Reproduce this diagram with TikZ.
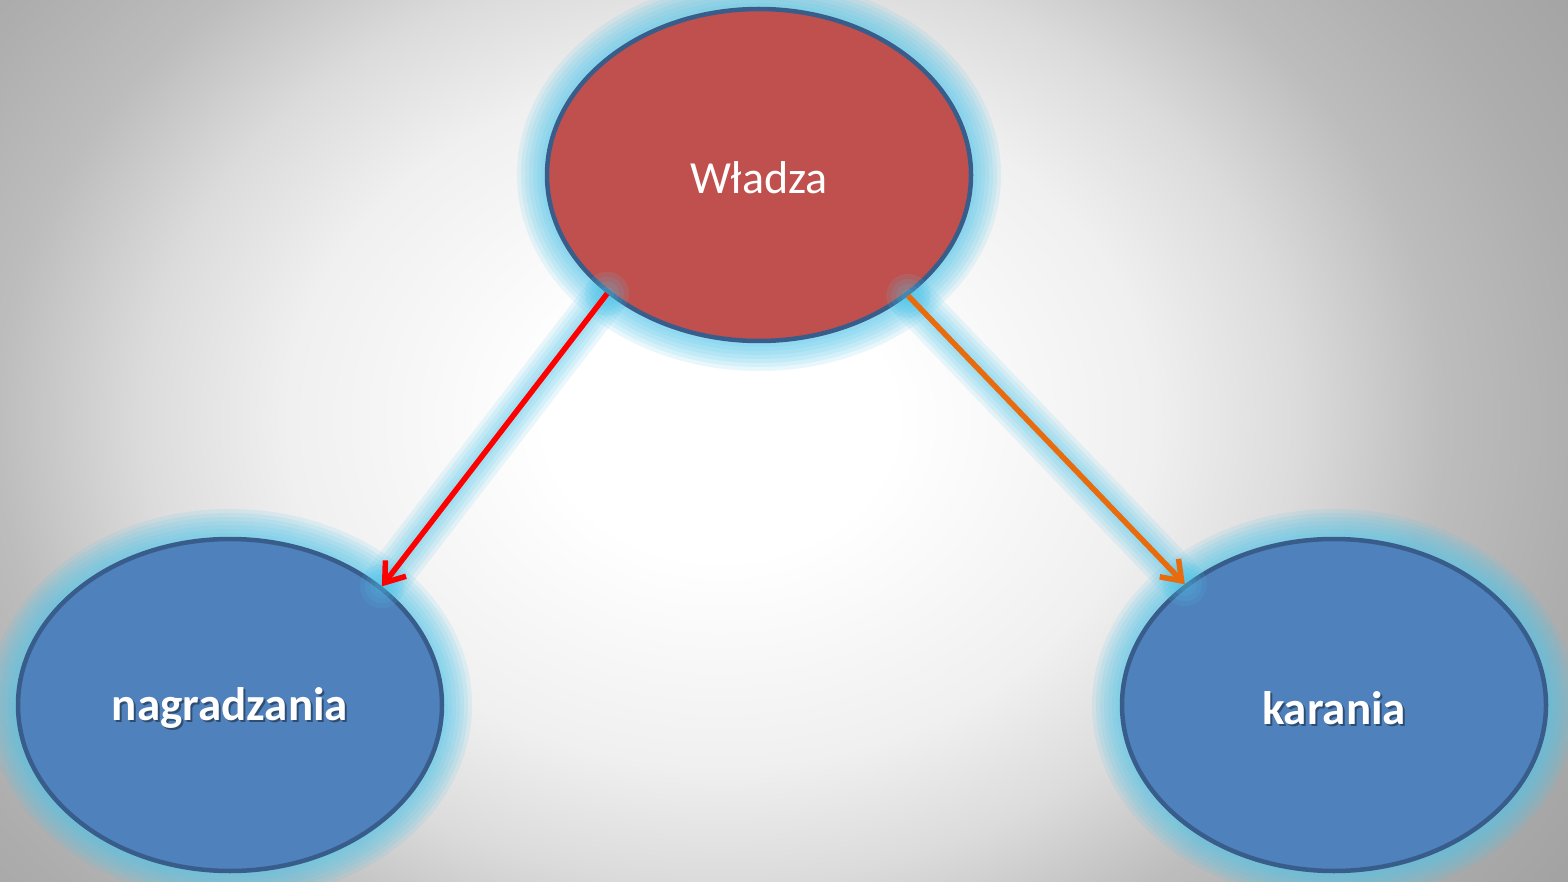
\documentclass[tikz,border=0pt]{standalone}
\usepackage{fontspec}
\setmainfont{Carlito}
\usetikzlibrary{shapes.geometric,arrows.meta}
\definecolor{glowc}{RGB}{80,198,235}
\definecolor{redfill}{RGB}{192,80,77}
\definecolor{bluefill}{RGB}{79,129,189}
\definecolor{borderc}{RGB}{56,93,138}
\definecolor{arrred}{RGB}{255,0,0}
\definecolor{arrorange}{RGB}{232,108,14}
\pgfdeclareradialshading{bgshade}{\pgfpointorigin}{color(0bp)=(white); color(12bp)=(white); color(30bp)=(black!6); color(40bp)=(black!14); color(50bp)=(black!26); color(60bp)=(black!32); color(70bp)=(black!36)}
\pgfdeclarelayer{bglayer}
\pgfdeclarelayer{glowlayer}
\pgfsetlayers{bglayer,glowlayer,main}
\tikzset{
  oval/.style={ellipse, draw=borderc, line width=4.5pt, minimum width=424pt, minimum height=332pt, inner sep=0pt},
  glowline/.style={draw=glowc, line width=#1, draw opacity=0.13, line cap=round},
  blob/.style={fill=glowc, fill opacity=0.13, draw=none},
  labeltext/.style={text=white, font=\fontsize{46}{50}\selectfont},
  boldtext/.style={text=white, font=\bfseries\fontsize{47}{50}\selectfont},
  shadowtext/.style={text=black, text opacity=0.4, font=\bfseries\fontsize{47}{50}\selectfont},
  arrowline/.style={line width=5.5pt, -{Straight Barb[length=18pt,width=26pt,line width=5.5pt]}}
}
\begin{document}
\begin{tikzpicture}[x=1pt,y=-1pt]
\useasboundingbox (0,0) rectangle (1568,882);
\begin{pgfonlayer}{bglayer}
  \begin{scope}
    \clip (0,0) rectangle (1568,882);
    \fill[black!36] (0,0) rectangle (1568,882);
    \pgftransformshift{\pgfpoint{720pt}{-420pt}}
    \pgftransformxscale{14.4}
    \pgftransformyscale{11.5}
    \pgflowlevelsynccm
    \pgfuseshading{bgshade}
  \end{scope}
\end{pgfonlayer}

\node[oval, fill=redfill] (W) at (759,175) {};
\node[oval, fill=bluefill] (N) at (230,705) {};
\node[oval, fill=bluefill] (K) at (1334,705) {};

\foreach \p in {W.218, W.321.6, N.38.7, K.141.7}{
  \foreach \r in {22,17,12,7}{
    \fill[blob] (\p) circle [radius=\r];
  }
}

\node[labeltext] (Wt) at (759,178) {Władza};
\node[shadowtext] (Ns) at (232,710) {nagradzania};
\node[boldtext] (Nt) at (230,708) {nagradzania};
\node[shadowtext] (Ks) at (1336,710) {karania};
\node[boldtext] (Kt) at (1334,708) {karania};

\draw[arrowline, draw=arrred] (W.218) -- (N.38.7);
\draw[arrowline, draw=arrorange] (W.321.6) -- (K.141.7);

\begin{pgfonlayer}{glowlayer}
  \foreach \w in {60,52,44,36,28,20,12}{
    \draw[glowline=\w pt] (W.center) ellipse [x radius=212, y radius=166];
    \draw[glowline=\w pt] (N.center) ellipse [x radius=212, y radius=166];
    \draw[glowline=\w pt] (K.center) ellipse [x radius=212, y radius=166];
  }
  \foreach \w in {44,36,28,20,12}{
    \draw[glowline=\w pt] (W.218) -- (N.38.7);
    \draw[glowline=\w pt] (W.321.6) -- (K.141.7);
  }
\end{pgfonlayer}
\end{tikzpicture}
\end{document}
